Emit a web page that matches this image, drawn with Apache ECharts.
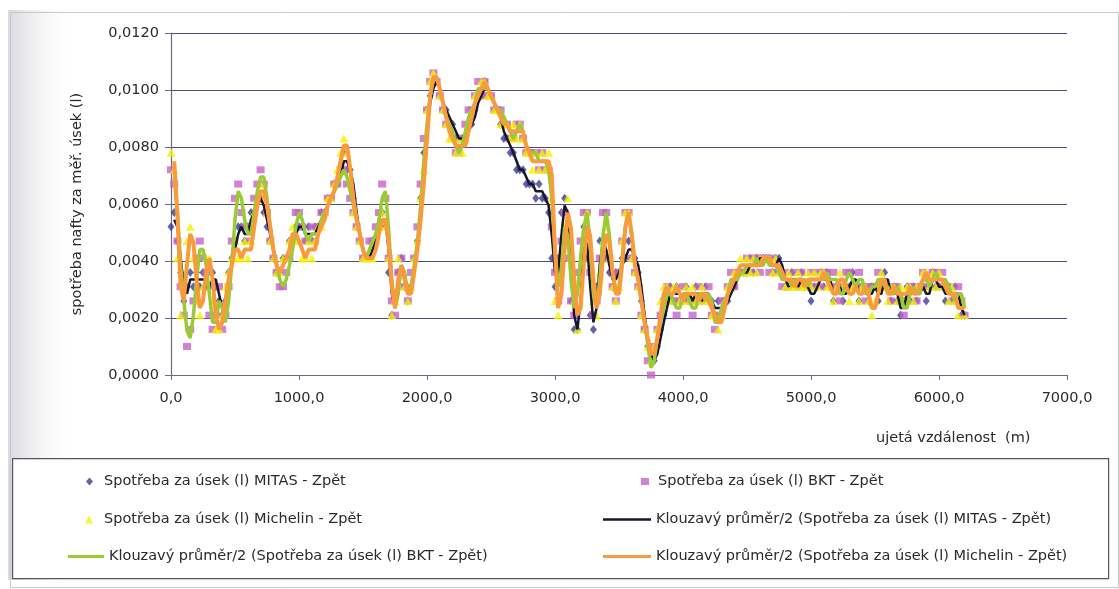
<!DOCTYPE html>
<html>
<head>
<meta charset="utf-8">
<script src="https://cdn.jsdelivr.net/npm/echarts@6/dist/echarts.min.js"></script>
<style>
  html, body { margin: 0; padding: 0; background: #ffffff; }
  #chart { width: 1119px; height: 589px; }
</style>
</head>
<body>
<div id="chart"></div>
<script>
// Ujetá vzdálenost (m) – measurement points every 25 m
const distance = [
  0, 25, 50, 75, 100, 125, 150, 175, 200, 225, 250, 275, 300, 325, 350, 375, 400, 425, 450, 475,
  500, 525, 550, 575, 600, 625, 650, 675, 700, 725, 750, 775, 800, 825, 850, 875, 900, 925, 950, 975,
  1000, 1025, 1050, 1075, 1100, 1125, 1150, 1175, 1200, 1225, 1250, 1275, 1300, 1325, 1350, 1375, 1400, 1425, 1450, 1475,
  1500, 1525, 1550, 1575, 1600, 1625, 1650, 1675, 1700, 1725, 1750, 1775, 1800, 1825, 1850, 1875, 1900, 1925, 1950, 1975,
  2000, 2025, 2050, 2075, 2100, 2125, 2150, 2175, 2200, 2225, 2250, 2275, 2300, 2325, 2350, 2375, 2400, 2425, 2450, 2475,
  2500, 2525, 2550, 2575, 2600, 2625, 2650, 2675, 2700, 2725, 2750, 2775, 2800, 2825, 2850, 2875, 2900, 2925, 2950, 2975,
  3000, 3025, 3050, 3075, 3100, 3125, 3150, 3175, 3200, 3225, 3250, 3275, 3300, 3325, 3350, 3375, 3400, 3425, 3450, 3475,
  3500, 3525, 3550, 3575, 3600, 3625, 3650, 3675, 3700, 3725, 3750, 3775, 3800, 3825, 3850, 3875, 3900, 3925, 3950, 3975,
  4000, 4025, 4050, 4075, 4100, 4125, 4150, 4175, 4200, 4225, 4250, 4275, 4300, 4325, 4350, 4375, 4400, 4425, 4450, 4475,
  4500, 4525, 4550, 4575, 4600, 4625, 4650, 4675, 4700, 4725, 4750, 4775, 4800, 4825, 4850, 4875, 4900, 4925, 4950, 4975,
  5000, 5025, 5050, 5075, 5100, 5125, 5150, 5175, 5200, 5225, 5250, 5275, 5300, 5325, 5350, 5375, 5400, 5425, 5450, 5475,
  5500, 5525, 5550, 5575, 5600, 5625, 5650, 5675, 5700, 5725, 5750, 5775, 5800, 5825, 5850, 5875, 5900, 5925, 5950, 5975,
  6000, 6025, 6050, 6075, 6100, 6125, 6150, 6175, 6200
];

// Spotřeba za úsek (l) – MITAS
const mitas = [
  0.0052, 0.0057, 0.0047, 0.0036, 0.0026, 0.0031, 0.0036, 0.0031, 0.0036, 0.0031, 0.0036, 0.0031, 0.0031, 0.0036, 0.0031, 0.0026, 0.0021, 0.0026, 0.0036, 0.0041,
  0.0047, 0.0052, 0.0052, 0.0047, 0.0052, 0.0057, 0.0057, 0.0062, 0.0062, 0.0057, 0.0052, 0.0047, 0.0041, 0.0036, 0.0036, 0.0041, 0.0041, 0.0047, 0.0047, 0.0052,
  0.0052, 0.0052, 0.0047, 0.0052, 0.0047, 0.0052, 0.0052, 0.0057, 0.0057, 0.0062, 0.0062, 0.0067, 0.0067, 0.0072, 0.0078, 0.0072, 0.0072, 0.0062, 0.0052, 0.0047,
  0.0041, 0.0041, 0.0041, 0.0047, 0.0047, 0.0052, 0.0057, 0.0052, 0.0036, 0.0021, 0.0026, 0.0036, 0.0041, 0.0031, 0.0026, 0.0031, 0.0041, 0.0047, 0.0062, 0.0078,
  0.0093, 0.0098, 0.0103, 0.0103, 0.0098, 0.0093, 0.0093, 0.0088, 0.0088, 0.0083, 0.0083, 0.0083, 0.0083, 0.0088, 0.0088, 0.0093, 0.0098, 0.0098, 0.0103, 0.0098,
  0.0098, 0.0093, 0.0093, 0.0088, 0.0083, 0.0083, 0.0078, 0.0078, 0.0072, 0.0072, 0.0072, 0.0067, 0.0067, 0.0067, 0.0062, 0.0067, 0.0062, 0.0062, 0.0057, 0.0041,
  0.0031, 0.0041, 0.0057, 0.0062, 0.0052, 0.0026, 0.0016, 0.0016, 0.0036, 0.0052, 0.0041, 0.0021, 0.0016, 0.0031, 0.0047, 0.0047, 0.0041, 0.0036, 0.0031, 0.0036,
  0.0036, 0.0041, 0.0041, 0.0047, 0.0041, 0.0041, 0.0036, 0.0026, 0.0016, 0.0010, 0.0005, 0.0005, 0.0010, 0.0016, 0.0021, 0.0026, 0.0031, 0.0026, 0.0031, 0.0026,
  0.0026, 0.0031, 0.0026, 0.0026, 0.0031, 0.0026, 0.0026, 0.0031, 0.0026, 0.0026, 0.0021, 0.0026, 0.0021, 0.0026, 0.0026, 0.0031, 0.0031, 0.0036, 0.0036, 0.0036,
  0.0036, 0.0041, 0.0036, 0.0041, 0.0041, 0.0041, 0.0041, 0.0041, 0.0036, 0.0041, 0.0041, 0.0036, 0.0031, 0.0031, 0.0036, 0.0031, 0.0031, 0.0036, 0.0031, 0.0031,
  0.0026, 0.0031, 0.0031, 0.0036, 0.0031, 0.0036, 0.0031, 0.0026, 0.0031, 0.0031, 0.0026, 0.0031, 0.0031, 0.0036, 0.0031, 0.0026, 0.0031, 0.0031, 0.0026, 0.0031,
  0.0031, 0.0026, 0.0031, 0.0036, 0.0031, 0.0026, 0.0031, 0.0026, 0.0021, 0.0026, 0.0031, 0.0026, 0.0031, 0.0026, 0.0031, 0.0031, 0.0026, 0.0031, 0.0036, 0.0031,
  0.0031, 0.0031, 0.0026, 0.0031, 0.0026, 0.0031, 0.0026, 0.0021, 0.0021
];

// Spotřeba za úsek (l) – BKT
const bkt = [
  0.0072, 0.0067, 0.0047, 0.0031, 0.0021, 0.0010, 0.0016, 0.0026, 0.0041, 0.0047, 0.0041, 0.0036, 0.0021, 0.0016, 0.0021, 0.0031, 0.0016, 0.0021, 0.0031, 0.0047,
  0.0062, 0.0067, 0.0057, 0.0052, 0.0047, 0.0052, 0.0062, 0.0067, 0.0072, 0.0067, 0.0057, 0.0047, 0.0041, 0.0036, 0.0031, 0.0031, 0.0036, 0.0041, 0.0047, 0.0057,
  0.0057, 0.0052, 0.0047, 0.0047, 0.0052, 0.0047, 0.0052, 0.0057, 0.0057, 0.0062, 0.0062, 0.0067, 0.0067, 0.0072, 0.0072, 0.0067, 0.0062, 0.0057, 0.0052, 0.0047,
  0.0041, 0.0041, 0.0047, 0.0047, 0.0052, 0.0057, 0.0067, 0.0062, 0.0041, 0.0026, 0.0021, 0.0036, 0.0041, 0.0031, 0.0026, 0.0036, 0.0041, 0.0052, 0.0067, 0.0083,
  0.0093, 0.0103, 0.0106, 0.0103, 0.0098, 0.0093, 0.0088, 0.0088, 0.0083, 0.0078, 0.0078, 0.0083, 0.0088, 0.0093, 0.0093, 0.0098, 0.0103, 0.0098, 0.0103, 0.0098,
  0.0098, 0.0093, 0.0093, 0.0093, 0.0088, 0.0088, 0.0083, 0.0083, 0.0088, 0.0088, 0.0083, 0.0078, 0.0078, 0.0078, 0.0078, 0.0072, 0.0078, 0.0072, 0.0072, 0.0052,
  0.0036, 0.0026, 0.0047, 0.0057, 0.0041, 0.0026, 0.0021, 0.0036, 0.0047, 0.0057, 0.0057, 0.0036, 0.0021, 0.0026, 0.0041, 0.0057, 0.0057, 0.0041, 0.0031, 0.0026,
  0.0036, 0.0047, 0.0057, 0.0057, 0.0041, 0.0036, 0.0031, 0.0021, 0.0016, 0.0005, 0.0000, 0.0010, 0.0016, 0.0021, 0.0026, 0.0031, 0.0026, 0.0026, 0.0021, 0.0026,
  0.0031, 0.0026, 0.0026, 0.0021, 0.0026, 0.0031, 0.0026, 0.0026, 0.0031, 0.0021, 0.0016, 0.0021, 0.0026, 0.0026, 0.0031, 0.0036, 0.0031, 0.0036, 0.0036, 0.0036,
  0.0041, 0.0036, 0.0041, 0.0041, 0.0036, 0.0041, 0.0041, 0.0036, 0.0041, 0.0036, 0.0036, 0.0031, 0.0036, 0.0031, 0.0031, 0.0036, 0.0031, 0.0036, 0.0031, 0.0031,
  0.0036, 0.0031, 0.0036, 0.0031, 0.0036, 0.0036, 0.0031, 0.0036, 0.0031, 0.0026, 0.0031, 0.0036, 0.0036, 0.0031, 0.0031, 0.0036, 0.0031, 0.0026, 0.0031, 0.0031,
  0.0031, 0.0036, 0.0031, 0.0031, 0.0031, 0.0026, 0.0031, 0.0031, 0.0026, 0.0021, 0.0026, 0.0031, 0.0031, 0.0026, 0.0031, 0.0036, 0.0031, 0.0031, 0.0036, 0.0036,
  0.0031, 0.0036, 0.0031, 0.0031, 0.0026, 0.0026, 0.0031, 0.0026, 0.0021
];

// Spotřeba za úsek (l) – Michelin
const michelin = [
  0.0078, 0.0072, 0.0041, 0.0021, 0.0031, 0.0047, 0.0052, 0.0041, 0.0026, 0.0021, 0.0031, 0.0041, 0.0041, 0.0026, 0.0016, 0.0016, 0.0021, 0.0031, 0.0036, 0.0041,
  0.0047, 0.0041, 0.0041, 0.0047, 0.0041, 0.0047, 0.0057, 0.0062, 0.0067, 0.0062, 0.0057, 0.0047, 0.0041, 0.0036, 0.0036, 0.0041, 0.0041, 0.0047, 0.0052, 0.0047,
  0.0047, 0.0041, 0.0041, 0.0047, 0.0041, 0.0047, 0.0052, 0.0052, 0.0057, 0.0062, 0.0062, 0.0067, 0.0072, 0.0078, 0.0083, 0.0078, 0.0067, 0.0057, 0.0052, 0.0047,
  0.0041, 0.0041, 0.0041, 0.0041, 0.0047, 0.0052, 0.0057, 0.0052, 0.0041, 0.0021, 0.0026, 0.0041, 0.0036, 0.0031, 0.0026, 0.0031, 0.0041, 0.0047, 0.0062, 0.0072,
  0.0093, 0.0103, 0.0106, 0.0103, 0.0098, 0.0093, 0.0088, 0.0083, 0.0083, 0.0078, 0.0083, 0.0078, 0.0083, 0.0088, 0.0093, 0.0098, 0.0098, 0.0103, 0.0103, 0.0098,
  0.0098, 0.0093, 0.0093, 0.0088, 0.0088, 0.0088, 0.0083, 0.0088, 0.0083, 0.0088, 0.0083, 0.0078, 0.0078, 0.0072, 0.0078, 0.0072, 0.0078, 0.0072, 0.0078, 0.0062,
  0.0026, 0.0021, 0.0036, 0.0052, 0.0062, 0.0041, 0.0026, 0.0016, 0.0031, 0.0047, 0.0057, 0.0041, 0.0026, 0.0021, 0.0036, 0.0047, 0.0052, 0.0041, 0.0031, 0.0026,
  0.0031, 0.0047, 0.0057, 0.0057, 0.0041, 0.0036, 0.0031, 0.0021, 0.0016, 0.0010, 0.0005, 0.0010, 0.0016, 0.0026, 0.0031, 0.0031, 0.0026, 0.0031, 0.0031, 0.0026,
  0.0026, 0.0031, 0.0026, 0.0031, 0.0026, 0.0026, 0.0031, 0.0026, 0.0026, 0.0021, 0.0021, 0.0016, 0.0021, 0.0026, 0.0031, 0.0031, 0.0036, 0.0036, 0.0041, 0.0036,
  0.0041, 0.0036, 0.0041, 0.0036, 0.0041, 0.0041, 0.0041, 0.0041, 0.0036, 0.0041, 0.0036, 0.0036, 0.0031, 0.0036, 0.0031, 0.0031, 0.0036, 0.0031, 0.0031, 0.0036,
  0.0031, 0.0036, 0.0031, 0.0036, 0.0036, 0.0031, 0.0031, 0.0026, 0.0031, 0.0036, 0.0031, 0.0031, 0.0026, 0.0031, 0.0031, 0.0026, 0.0031, 0.0031, 0.0026, 0.0021,
  0.0026, 0.0031, 0.0036, 0.0031, 0.0026, 0.0031, 0.0031, 0.0026, 0.0031, 0.0026, 0.0031, 0.0031, 0.0026, 0.0031, 0.0031, 0.0036, 0.0036, 0.0031, 0.0036, 0.0031,
  0.0036, 0.0031, 0.0031, 0.0026, 0.0031, 0.0026, 0.0021, 0.0026, 0.0021
];

const NAME_MITAS = 'Spotřeba za úsek (l) MITAS - Zpět';
const NAME_BKT = 'Spotřeba za úsek (l) BKT - Zpět';
const NAME_MICHELIN = 'Spotřeba za úsek (l) Michelin - Zpět';
const NAME_MA_MITAS = 'Klouzavý průměr/2 (Spotřeba za úsek (l) MITAS - Zpět)';
const NAME_MA_BKT = 'Klouzavý průměr/2 (Spotřeba za úsek (l) BKT - Zpět)';
const NAME_MA_MICHELIN = 'Klouzavý průměr/2 (Spotřeba za úsek (l) Michelin - Zpět)';

const FONT = 'DejaVu Sans';
const TEXT_COLOR = '#2a2a2a';
const GRID_COLOR = '#4b4b7a';

function pairs(xs, ys) {
  return xs.map((x, i) => [x, ys[i]]);
}

// two-period moving average (trend line), starting from the second point
function movingAverage2(xs, ys) {
  const out = [];
  for (let i = 1; i < ys.length; i++) {
    out.push([xs[i], (ys[i - 1] + ys[i]) / 2]);
  }
  return out;
}

const chart = echarts.init(document.getElementById('chart'), null, { renderer: 'canvas' });

function legendItem(name, left, top, icon, w, h, extraPad) {
  return {
    data: [{ name: name, icon: icon }],
    left: left,
    top: top,
    itemWidth: w,
    itemHeight: h,
    selectedMode: false,
    padding: 0,
    textStyle: {
      fontFamily: FONT,
      fontSize: 14.5,
      color: TEXT_COLOR,
      padding: [0, 0, 0, extraPad]
    }
  };
}

const option = {
  animation: false,
  backgroundColor: '#ffffff',
  graphic: [
    // shaded frame on the left of the chart area
    {
      type: 'rect', left: 8, top: 10, z: -10, silent: true,
      shape: { width: 70, height: 570 },
      style: {
        fill: new echarts.graphic.LinearGradient(0, 0, 1, 0, [
          { offset: 0, color: '#d9d9de' },
          { offset: 1, color: 'rgba(255,255,255,0)' }
        ])
      }
    },
    {
      type: 'rect', left: 8, top: 10, z: -9, silent: true,
      shape: { width: 1108, height: 575 },
      style: { fill: 'none', stroke: '#c8c8cc', lineWidth: 1 }
    },
    // legend box
    {
      type: 'rect', left: 12, top: 458, z: -5, silent: true,
      shape: { width: 1096, height: 120 },
      style: { fill: '#ffffff', stroke: '#555560', lineWidth: 1.2 }
    },
    // x axis title
    {
      type: 'text', left: 876, top: 431, silent: true,
      style: { text: 'ujetá vzdálenost  (m)', font: '14.5px "DejaVu Sans"', fill: TEXT_COLOR }
    }
  ],
  legend: [
    legendItem(NAME_MITAS, 86, 474, 'diamond', 7, 8, 6),
    legendItem(NAME_BKT, 641, 474, 'rect', 8, 7, 4),
    legendItem(NAME_MICHELIN, 85, 512, 'triangle', 8, 8, 6),
    legendItem(NAME_MA_MITAS, 603, 512, 'rect', 48, 2.5, 0),
    legendItem(NAME_MA_BKT, 68, 549, 'rect', 36, 3, 0),
    legendItem(NAME_MA_MICHELIN, 603, 549, 'rect', 48, 3, 0)
  ],
  grid: {
    left: 171,
    right: 52,
    top: 33,
    bottom: 214,
    containLabel: false
  },
  xAxis: {
    type: 'value',
    min: 0,
    max: 7000,
    interval: 1000,
    axisLine: { show: true, onZero: false, lineStyle: { color: '#6a6a80', width: 1.2 } },
    axisTick: { show: true, length: 5, lineStyle: { color: '#6a6a80' } },
    splitLine: { show: false },
    axisLabel: {
      fontFamily: FONT,
      fontSize: 14.5,
      color: TEXT_COLOR,
      margin: 16,
      formatter: v => v.toFixed(1).replace('.', ',')
    }
  },
  yAxis: {
    type: 'value',
    min: 0,
    max: 0.012,
    interval: 0.002,
    name: 'spotřeba nafty za měř. úsek (l)',
    nameLocation: 'middle',
    nameRotate: 90,
    nameGap: 86,
    nameTextStyle: { fontFamily: FONT, fontSize: 14.5, color: TEXT_COLOR },
    axisLine: { show: true, lineStyle: { color: '#6a6a80', width: 1.2 } },
    axisTick: { show: true, length: 6, lineStyle: { color: '#6a6a80' } },
    splitLine: { show: true, lineStyle: { color: GRID_COLOR, width: 1 } },
    axisLabel: {
      fontFamily: FONT,
      fontSize: 14.5,
      color: TEXT_COLOR,
      margin: 12,
      formatter: v => v.toFixed(4).replace('.', ',')
    }
  },
  series: [
    {
      name: NAME_MITAS, type: 'scatter', symbol: 'diamond', symbolSize: [7, 9],
      itemStyle: { color: '#3c3c94' }, data: pairs(distance, mitas), z: 2
    },
    {
      name: NAME_BKT, type: 'scatter', symbol: 'rect', symbolSize: [8, 7],
      itemStyle: { color: '#c862c8' }, data: pairs(distance, bkt), z: 3
    },
    {
      name: NAME_MICHELIN, type: 'scatter', symbol: 'triangle', symbolSize: [9, 8],
      itemStyle: { color: '#f2f200' }, data: pairs(distance, michelin), z: 4
    },
    {
      name: NAME_MA_MITAS, type: 'line', symbol: 'none', showSymbol: false,
      lineStyle: { color: '#16162e', width: 2.5 }, itemStyle: { color: '#16162e' },
      data: movingAverage2(distance, mitas), z: 5
    },
    {
      name: NAME_MA_BKT, type: 'line', symbol: 'none', showSymbol: false,
      lineStyle: { color: '#9acb34', width: 3.5 }, itemStyle: { color: '#9acb34' },
      data: movingAverage2(distance, bkt), z: 6
    },
    {
      name: NAME_MA_MICHELIN, type: 'line', symbol: 'none', showSymbol: false,
      lineStyle: { color: '#fb9a3a', width: 4 }, itemStyle: { color: '#fb9a3a' },
      data: movingAverage2(distance, michelin), z: 7
    }
  ]
};

chart.setOption(option);
</script>
</body>
</html>
